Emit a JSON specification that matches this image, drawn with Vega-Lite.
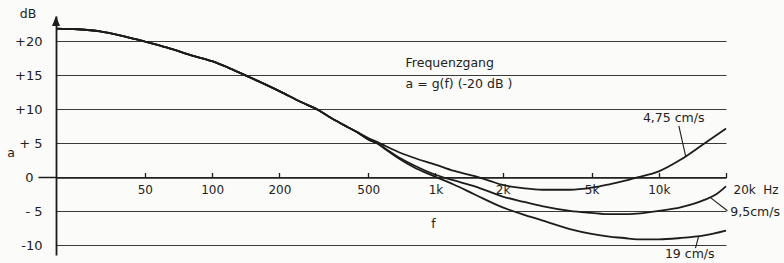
{
  "$schema": "https://vega.github.io/schema/vega-lite/v6.json",
  "width": 670,
  "height": 239,
  "autosize": {"type": "none"},
  "padding": {"left": 56, "top": 16, "right": 58, "bottom": 8},
  "background": "#fbfbf9",
  "config": {"view": {"stroke": null}, "font": "DejaVu Sans", "text": {"font": "DejaVu Sans"}},
  "datasets": {
    "curves": [
      {"speed": "4,75", "f": 20, "dB": 21.9}, {"speed": "4,75", "f": 25, "dB": 21.8}, {"speed": "4,75", "f": 31.5, "dB": 21.5}, {"speed": "4,75", "f": 40, "dB": 20.8}, {"speed": "4,75", "f": 50, "dB": 20.0}, {"speed": "4,75", "f": 63, "dB": 19.1}, {"speed": "4,75", "f": 80, "dB": 18.0}, {"speed": "4,75", "f": 100, "dB": 17.1}, {"speed": "4,75", "f": 125, "dB": 15.8}, {"speed": "4,75", "f": 160, "dB": 14.2}, {"speed": "4,75", "f": 200, "dB": 12.7}, {"speed": "4,75", "f": 250, "dB": 11.1}, {"speed": "4,75", "f": 300, "dB": 9.9}, {"speed": "4,75", "f": 340, "dB": 8.8}, {"speed": "4,75", "f": 400, "dB": 7.5}, {"speed": "4,75", "f": 450, "dB": 6.6},
      {"speed": "4,75", "f": 500, "dB": 5.8}, {"speed": "4,75", "f": 550, "dB": 5.2}, {"speed": "4,75", "f": 600, "dB": 4.6}, {"speed": "4,75", "f": 700, "dB": 3.6}, {"speed": "4,75", "f": 800, "dB": 2.9}, {"speed": "4,75", "f": 1000, "dB": 1.9}, {"speed": "4,75", "f": 1200, "dB": 1.0}, {"speed": "4,75", "f": 1500, "dB": 0.2}, {"speed": "4,75", "f": 1750, "dB": -0.5}, {"speed": "4,75", "f": 2000, "dB": -1.1}, {"speed": "4,75", "f": 2500, "dB": -1.6}, {"speed": "4,75", "f": 3000, "dB": -1.8}, {"speed": "4,75", "f": 4000, "dB": -1.8}, {"speed": "4,75", "f": 5000, "dB": -1.5}, {"speed": "4,75", "f": 6000, "dB": -1.0}, {"speed": "4,75", "f": 7000, "dB": -0.5}, {"speed": "4,75", "f": 8000, "dB": 0.0}, {"speed": "4,75", "f": 10000, "dB": 0.9}, {"speed": "4,75", "f": 12500, "dB": 2.6}, {"speed": "4,75", "f": 16000, "dB": 5.0}, {"speed": "4,75", "f": 20000, "dB": 7.2},
      {"speed": "9,5", "f": 20, "dB": 21.9}, {"speed": "9,5", "f": 25, "dB": 21.8}, {"speed": "9,5", "f": 31.5, "dB": 21.5}, {"speed": "9,5", "f": 40, "dB": 20.8}, {"speed": "9,5", "f": 50, "dB": 20.0}, {"speed": "9,5", "f": 63, "dB": 19.1}, {"speed": "9,5", "f": 80, "dB": 18.0}, {"speed": "9,5", "f": 100, "dB": 17.1}, {"speed": "9,5", "f": 125, "dB": 15.8}, {"speed": "9,5", "f": 160, "dB": 14.2}, {"speed": "9,5", "f": 200, "dB": 12.7}, {"speed": "9,5", "f": 250, "dB": 11.1}, {"speed": "9,5", "f": 300, "dB": 9.9}, {"speed": "9,5", "f": 340, "dB": 8.8}, {"speed": "9,5", "f": 400, "dB": 7.5}, {"speed": "9,5", "f": 450, "dB": 6.6},
      {"speed": "9,5", "f": 500, "dB": 5.6}, {"speed": "9,5", "f": 550, "dB": 5.0}, {"speed": "9,5", "f": 600, "dB": 4.2}, {"speed": "9,5", "f": 700, "dB": 2.8}, {"speed": "9,5", "f": 800, "dB": 1.8}, {"speed": "9,5", "f": 1000, "dB": 0.4}, {"speed": "9,5", "f": 1200, "dB": -0.4}, {"speed": "9,5", "f": 1500, "dB": -1.3}, {"speed": "9,5", "f": 2000, "dB": -2.8}, {"speed": "9,5", "f": 2500, "dB": -3.6}, {"speed": "9,5", "f": 3000, "dB": -4.2}, {"speed": "9,5", "f": 4000, "dB": -4.9}, {"speed": "9,5", "f": 5000, "dB": -5.2}, {"speed": "9,5", "f": 6000, "dB": -5.4}, {"speed": "9,5", "f": 7000, "dB": -5.4}, {"speed": "9,5", "f": 8000, "dB": -5.3}, {"speed": "9,5", "f": 10000, "dB": -4.9}, {"speed": "9,5", "f": 12500, "dB": -4.4}, {"speed": "9,5", "f": 16000, "dB": -3.3}, {"speed": "9,5", "f": 18000, "dB": -2.5}, {"speed": "9,5", "f": 20000, "dB": -1.3},
      {"speed": "19", "f": 20, "dB": 21.9}, {"speed": "19", "f": 25, "dB": 21.8}, {"speed": "19", "f": 31.5, "dB": 21.5}, {"speed": "19", "f": 40, "dB": 20.8}, {"speed": "19", "f": 50, "dB": 20.0}, {"speed": "19", "f": 63, "dB": 19.1}, {"speed": "19", "f": 80, "dB": 18.0}, {"speed": "19", "f": 100, "dB": 17.1}, {"speed": "19", "f": 125, "dB": 15.8}, {"speed": "19", "f": 160, "dB": 14.2}, {"speed": "19", "f": 200, "dB": 12.7}, {"speed": "19", "f": 250, "dB": 11.1}, {"speed": "19", "f": 300, "dB": 9.9}, {"speed": "19", "f": 340, "dB": 8.8}, {"speed": "19", "f": 400, "dB": 7.5}, {"speed": "19", "f": 450, "dB": 6.6},
      {"speed": "19", "f": 500, "dB": 5.6}, {"speed": "19", "f": 550, "dB": 5.0}, {"speed": "19", "f": 600, "dB": 4.1}, {"speed": "19", "f": 700, "dB": 2.6}, {"speed": "19", "f": 800, "dB": 1.5}, {"speed": "19", "f": 1000, "dB": 0.1}, {"speed": "19", "f": 1200, "dB": -1.0}, {"speed": "19", "f": 1500, "dB": -2.5}, {"speed": "19", "f": 2000, "dB": -4.4}, {"speed": "19", "f": 2500, "dB": -5.5}, {"speed": "19", "f": 3000, "dB": -6.3}, {"speed": "19", "f": 4000, "dB": -7.6}, {"speed": "19", "f": 5000, "dB": -8.3}, {"speed": "19", "f": 6000, "dB": -8.7}, {"speed": "19", "f": 7000, "dB": -8.9}, {"speed": "19", "f": 8000, "dB": -9.1}, {"speed": "19", "f": 10000, "dB": -9.1}, {"speed": "19", "f": 12500, "dB": -8.9}, {"speed": "19", "f": 16000, "dB": -8.5}, {"speed": "19", "f": 20000, "dB": -7.8}
    ],
    "arrow": [{"f": 20, "dB": 23.0}],
    "labelsLeft": [
      {"f": 735, "dB": 16.8, "text": "Frequenzgang"},
      {"f": 735, "dB": 13.8, "text": "a = g(f) (-20 dB )"},
      {"f": 8490, "dB": 8.7, "text": "4,75 cm/s"},
      {"f": 20900, "dB": -5.1, "text": "9,5cm/s"},
      {"f": 10650, "dB": -11.3, "text": "19 cm/s"}
    ],
    "labelsCenter": [
      {"f": 981, "dB": -6.8, "text": "f"},
      {"f": 15, "dB": 24.0, "text": "dB"},
      {"f": 12.6, "dB": 3.6, "text": "a"}
    ],
    "pointers": [
      {"f": 12300, "dB": 7.6, "f2": 13200, "dB2": 3.1},
      {"f": 17100, "dB": -3.0, "f2": 20300, "dB2": -4.9},
      {"f": 15100, "dB": -8.6, "f2": 14600, "dB2": -10.4}
    ]
  },
  "layer": [
    {
      "data": {"name": "curves"},
      "mark": {"type": "line", "interpolate": "monotone", "color": "#1c1c1c", "strokeWidth": 1.8},
      "encoding": {
        "x": {
          "field": "f", "type": "quantitative",
          "scale": {"type": "log", "domain": [20, 20000], "nice": false},
          "axis": {
            "orient": "bottom", "offset": -77.5,
            "values": [50, 100, 200, 500, 1000, 2000, 5000, 10000, 20000],
            "tickCount": 20,
            "labelExpr": "datum.value == 20000 ? '20k\u00a0\u00a0Hz' : (datum.value >= 1000 ? (datum.value / 1000) + 'k' : '' + datum.value)",
            "domainColor": "#1c1c1c", "domainWidth": 1.6,
            "tickColor": "#1c1c1c", "tickSize": -5, "tickWidth": 1.3,
            "labelFontSize": 12, "labelColor": "#222222", "labelFont": "DejaVu Sans",
            "labelBaseline": "middle", "labelPadding": 17,
            "labelAlign": {"condition": {"test": "datum.value == 20000", "value": "left"}, "value": "center"},
            "labelOffset": {"condition": {"test": "datum.value == 20000", "value": 7}, "value": 0},
            "labelOverlap": false, "labelFlush": false, "labelBound": false,
            "grid": false, "title": null
          }
        },
        "y": {
          "field": "dB", "type": "quantitative",
          "scale": {"domain": [-11.4, 23.75], "nice": false, "zero": false},
          "axis": {
            "orient": "left",
            "values": [-10, -5, 0, 5, 10, 15, 20],
            "tickCount": 20,
            "labelExpr": "datum.value > 0 ? (datum.value < 10 ? '+ ' + datum.value : '+' + datum.value) : (datum.value == 0 ? '0' : (datum.value > -10 ? '- ' + (-datum.value) : '' + datum.value))",
            "grid": true, "gridColor": "#3a3a3a", "gridWidth": 1.1,
            "domainColor": "#1c1c1c", "domainWidth": 1.8,
            "ticks": true, "tickSize": 18, "tickWidth": 1.5,
            "tickColor": {"condition": {"test": "datum.value == 0", "value": "#1c1c1c"}, "value": "transparent"},
            "labelPadding": {"condition": {"test": "datum.value == 0", "value": 5}, "value": -4},
            "labelFontSize": 13, "labelColor": "#222222", "labelFont": "DejaVu Sans",
            "labelBaseline": "middle", "labelOverlap": false, "labelBound": false, "labelFlush": false,
            "title": null
          }
        },
        "detail": {"field": "speed", "type": "nominal"}
      }
    },
    {
      "data": {"name": "arrow"},
      "mark": {"type": "point", "shape": "M0,-1L0.8,1L-0.8,1Z", "filled": true, "size": 100, "color": "#1c1c1c", "opacity": 1},
      "encoding": {
        "x": {"field": "f", "type": "quantitative"},
        "y": {"field": "dB", "type": "quantitative"}
      }
    },
    {
      "data": {"name": "pointers"},
      "mark": {"type": "rule", "color": "#1c1c1c", "strokeWidth": 1.1},
      "encoding": {
        "x": {"field": "f", "type": "quantitative"},
        "x2": {"field": "f2"},
        "y": {"field": "dB", "type": "quantitative"},
        "y2": {"field": "dB2"}
      }
    },
    {
      "data": {"name": "labelsLeft"},
      "mark": {"type": "text", "align": "left", "baseline": "middle", "fontSize": 12.5, "color": "#222222", "font": "DejaVu Sans"},
      "encoding": {
        "x": {"field": "f", "type": "quantitative"},
        "y": {"field": "dB", "type": "quantitative"},
        "text": {"field": "text"}
      }
    },
    {
      "data": {"name": "labelsCenter"},
      "mark": {"type": "text", "align": "center", "baseline": "middle", "fontSize": 12.5, "color": "#222222", "font": "DejaVu Sans"},
      "encoding": {
        "x": {"field": "f", "type": "quantitative"},
        "y": {"field": "dB", "type": "quantitative"},
        "text": {"field": "text"}
      }
    }
  ]
}
